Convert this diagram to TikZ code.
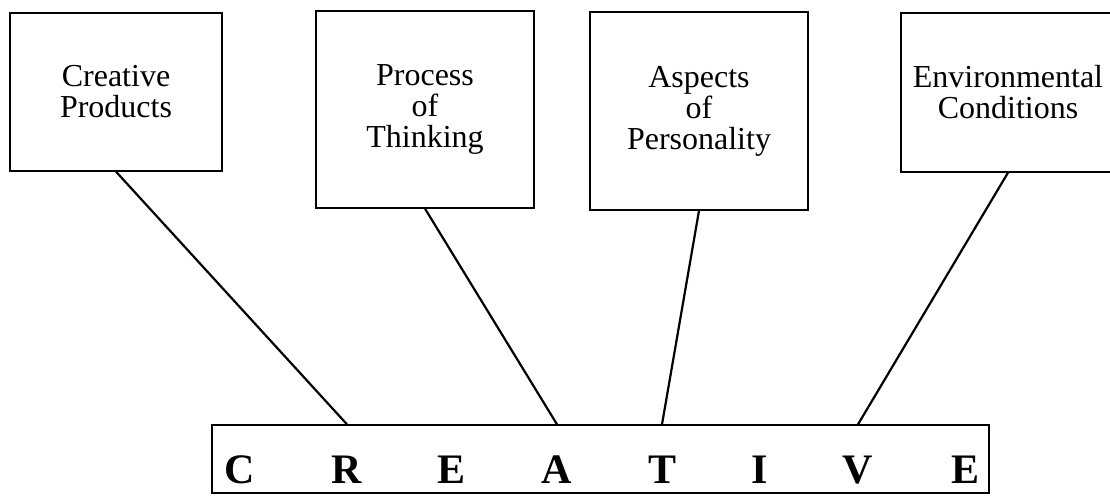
\documentclass[tikz,border=0pt]{standalone}
\usepackage{fontspec}
\setmainfont{Liberation Serif}
\begin{document}
\begin{tikzpicture}[x=1pt,y=-1pt,
  topbox/.style={draw=black,line width=1.3pt,rectangle,align=center,inner sep=0pt,
    font=\fontsize{32}{31}\selectfont},
  crebox/.style={draw=black,line width=1.3pt,rectangle,inner sep=0pt},
  letter/.style={inner sep=0pt,anchor=base,font=\fontsize{42}{42}\selectfont\bfseries},
  conn/.style={draw=black,line width=2.2pt}]
\clip (0,0) rectangle (1110,495);
\fill[white] (0,0) rectangle (1110,495);
\node[topbox,minimum width=212pt,minimum height=158pt] (b1) at (116,92) {Creative\\Products};
\node[topbox,minimum width=218pt,minimum height=197pt] (b2) at (425,109.5) {Process\\of\\Thinking};
\node[topbox,minimum width=218pt,minimum height=198pt] (b3) at (699,111) {Aspects\\of\\Personality};
\node[topbox,minimum width=214pt,minimum height=159pt] (b4) at (1008,92.5) {Environmental\\Conditions};
\node[crebox,minimum width=777pt,minimum height=68pt] (cre) at (600.5,459) {};
\node[letter] (lC) at (240,483) {C};
\node[letter] (lR) at (347,483) {R};
\node[letter] (lE) at (452,483) {E};
\node[letter] (lA) at (557,483) {A};
\node[letter] (lT) at (662,483) {T};
\node[letter] (lI) at (760,483) {I};
\node[letter] (lV) at (858,483) {V};
\node[letter] (lE2) at (965,483) {E};
\draw[conn] (b1.south) -- (lR |- cre.north);
\draw[conn] (b2.south) -- (lA |- cre.north);
\draw[conn] (b3.south) -- (lT |- cre.north);
\draw[conn] (b4.south) -- (lV |- cre.north);
\end{tikzpicture}
\end{document}
